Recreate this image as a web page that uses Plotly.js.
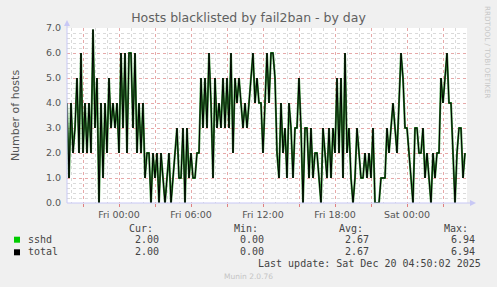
<!DOCTYPE html>
<html>
<head>
<meta charset="utf-8">
<script src="https://cdn.plot.ly/plotly-3.0.1.min.js"></script>
<style>
html,body{margin:0;padding:0;background:#F0F0F0;}
#chart{width:497px;height:287px;}
</style>
</head>
<body>
<div id="chart"></div>
<script>
// ---- data (5-min munin samples consolidated to 10-min steps) ----
const startTime = "2025-12-18T19:40:00Z";   // first sample (Thu 19:40)
const stepMinutes = 10;
const sshd = [
4,1,4,2,3,5,2,6,2,4, 2,4,2,6.94,3,5,0,4,1,4,
2,5,3,4,3,4,2,6,3,6, 2,6,6,3,6,2,4,2,4,1,
2,2,0,2,1,2,0,2,1,0, 1,2,0,1,2,3,1,1,3,0,
3,1,2,1,1,2,2,5,3,5, 3,6,4,1,5,3,4,3,5,3,
5,3,6,2,5,4,5,4,3,4, 3,4,5,6,4,5,4,4,2,4,
6,4,6,6,5,2,1,4,2,3, 1,4,3,1,3,3,5,3,0,3,
3,1,3,1,2,2,1,0,3,2, 1,3,1,3,2,5,2,5,1,6,
2,3,1,0,1,3,2,1,1,2, 1,2,1,3,0,0,0,1,1,1,
3,2,3,4,3,2,4,6,5,3, 3,2,1,0,3,3,2,2,3,1,
2,1,0,2,1,2,2,5,4,5, 6,4,4,2,0,2,3,3,1,2
];
const total = sshd.slice();
const seriesNames = ["sshd", "total"];
const seriesColors = ["#00CC00", "#000000"];
const statHeaders = ["Cur:", "Min:", "Avg:", "Max:"];
const sshdStats = ["2.00", "0.00", "2.67", "6.94"];
const totalStats = ["2.00", "0.00", "2.67", "6.94"];
const xTickVals = ["2025-12-18 21:00","2025-12-19 00:00","2025-12-19 03:00","2025-12-19 06:00",
  "2025-12-19 09:00","2025-12-19 12:00","2025-12-19 15:00","2025-12-19 18:00",
  "2025-12-19 21:00","2025-12-20 00:00","2025-12-20 03:00"];
const xTickText = ["","Fri 00:00","","Fri 06:00","","Fri 12:00","","Fri 18:00","","Sat 00:00",""];
const lastUpdate = "Last update: Sat Dec 20 04:50:02 2025";
const titleText = "Hosts blacklisted by fail2ban - by day";

// time stamps
const t0 = Date.parse(startTime);
const times = sshd.map((_, i) => new Date(t0 + i * stepMinutes * 60000).toISOString().slice(0,16).replace("T"," "));

// ---- pixel helpers for the decorations around the plot ----
const L = 67, R = 467, T = 28, B = 203;
const px = x => (x - L) / (R - L);
const py = y => (B - y) / (B - T);

const txt = "#555555";
const mono = "DejaVu Sans Mono, monospace";
const sans = "DejaVu Sans, sans-serif";

const traces = [
  {x: times, y: sshd, type: "scatter", mode: "lines", name: seriesNames[0],
   line: {color: "#2e8b2e", width: 2}, hoverinfo: "skip"},
  {x: times, y: total, type: "scatter", mode: "lines", name: seriesNames[1],
   line: {color: seriesColors[1], width: 1}, hoverinfo: "skip"}
];

const ann = [];
function addText(text, x, y, xanchor, opts) {
  ann.push(Object.assign({text: text, xref: "paper", yref: "paper", x: px(x), y: py(y),
    xanchor: xanchor, yanchor: "middle", showarrow: false,
    font: {family: mono, size: 10, color: "#444"}}, opts || {}));
}
const headRight = [155, 260, 365, 470];
const valRight = [161, 266, 371, 477];
statHeaders.forEach((h, i) => addText(h, headRight[i], 228, "right"));
addText(seriesNames[0], 26, 239.5, "left");
addText(seriesNames[1], 26, 251.5, "left");
sshdStats.forEach((v, i) => addText(v, valRight[i], 239.5, "right"));
totalStats.forEach((v, i) => addText(v, valRight[i], 251.5, "right"));
addText(lastUpdate, 483, 263, "right");
addText("Munin 2.0.76", 248, 276, "center", {font: {family: sans, size: 7.5, color: "#c4c4c4"}});
addText("RRDTOOL / TOBI OETIKER", 488, 52, "center", {textangle: 90, font: {family: sans, size: 7.2, color: "#c8c8c8"}});

const axisCol = "#c8c8f5";
const shapes = [
  {type: "line", xref: "paper", yref: "paper", x0: 0, x1: 0, y0: 0, y1: py(22), line: {color: axisCol, width: 1}},
  {type: "line", xref: "paper", yref: "paper", x0: 0, x1: px(472), y0: 0, y1: 0, line: {color: axisCol, width: 1}},
  {type: "path", xref: "paper", yref: "paper",
   path: `M ${px(64)} ${py(26)} L ${px(70)} ${py(26)} L ${px(67)} ${py(20)} Z`, fillcolor: axisCol, line: {width: 0}},
  {type: "path", xref: "paper", yref: "paper",
   path: `M ${px(470)} ${py(200)} L ${px(470)} ${py(206)} L ${px(476)} ${py(203)} Z`, fillcolor: axisCol, line: {width: 0}},
  {type: "rect", xref: "paper", yref: "paper", x0: px(14), x1: px(20), y0: py(236.7), y1: py(242.7),
   fillcolor: seriesColors[0], line: {width: 0}},
  {type: "rect", xref: "paper", yref: "paper", x0: px(14), x1: px(20), y0: py(249.3), y1: py(255.3),
   fillcolor: seriesColors[1], line: {width: 0}}
];

const redGrid = "#e6a8a8";
const greyGrid = "#dadada";

const layout = {
  width: 497, height: 287,
  margin: {l: L, r: 497 - R, t: T, b: 287 - B, pad: 0},
  paper_bgcolor: "#F0F0F0", plot_bgcolor: "#FFFFFF",
  showlegend: false,
  title: {text: titleText, x: 0.5, xanchor: "center", y: 1 - 18 / 287, yanchor: "middle",
          font: {family: sans, size: 12.5, color: "#606060"}},
  xaxis: {
    type: "date", range: ["2025-12-18 19:40", "2025-12-20 05:00"],
    tickmode: "array", tickvals: xTickVals, ticktext: xTickText,
    showgrid: true, gridcolor: redGrid, griddash: "dot", gridwidth: 1,
    ticks: "outside", ticklen: 3, tickcolor: "#e08080", tickwidth: 1,
    showline: false, zeroline: false,
    tickfont: {family: sans, size: 9.5, color: txt},
    minor: {tick0: "2025-12-18 00:00", dtick: 3600000, showgrid: true, gridcolor: greyGrid,
            griddash: "dot", gridwidth: 1, ticks: ""}
  },
  yaxis: {
    range: [0, 7], tickmode: "linear", tick0: 0, dtick: 1, tickformat: ".1f",
    showgrid: true, gridcolor: redGrid, griddash: "dot", gridwidth: 1,
    zeroline: false, showline: false, ticks: "", ticklabelstandoff: 5,
    tickfont: {family: sans, size: 9.5, color: txt},
    title: {text: "Number of hosts", standoff: 24, font: {family: sans, size: 11, color: txt}},
    minor: {dtick: 0.2, showgrid: true, gridcolor: greyGrid, griddash: "dot", gridwidth: 1, ticks: ""}
  },
  annotations: ann,
  shapes: shapes
};

Plotly.newPlot("chart", traces, layout, {displayModeBar: false, staticPlot: true});
</script>
</body>
</html>
